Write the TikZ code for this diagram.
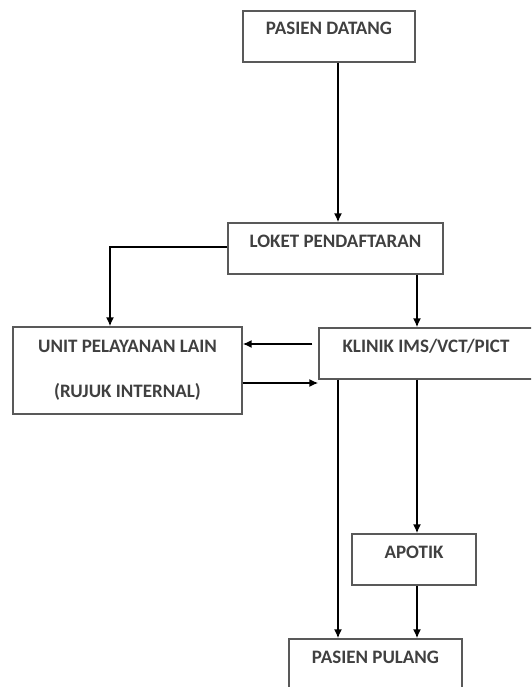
\documentclass[tikz,border=0pt]{standalone}
\usepackage{fontspec}
\setmainfont{Carlito}
\usetikzlibrary{arrows.meta,calc}

\tikzset{
  box/.style={draw=black!65, line width=1.3pt, rectangle, minimum height=51pt,
    inner sep=0pt, align=center, text=black!75,
    font=\fontsize{19}{23}\selectfont\bfseries},
  onebox/.style={box, text height=9pt, text depth=12pt},
  arr/.style={line width=1.7pt, -{Latex[length=9pt,width=8pt]}}
}

\begin{document}
\begin{tikzpicture}[x=1pt,y=1pt]
    \clip (0,0) rectangle (531,-687);
		\node[onebox, minimum width=172pt] (datang) at (329, -36.5) {PASIEN DATANG};
		\node[onebox, minimum width=215pt] (loket) at (335.5, -248.5) {LOKET PENDAFTARAN};
		\node[onebox, minimum width=214pt] (klinik) at (426, -353.5) {KLINIK IMS/VCT/PICT};
		\node[box, minimum width=229pt, minimum height=87pt] (unit) at (127.5, -370.5)
		  {UNIT PELAYANAN LAIN\\[22pt](RUJUK INTERNAL)};
		\node[onebox, minimum width=124pt] (apotik) at (414, -559.5) {APOTIK};
		\node[onebox, minimum width=173pt] (pulang) at (375.5, -664.5) {PASIEN PULANG};
		\draw[arr] ([xshift=9pt]datang.south) to ([xshift=9pt]datang.south |- loket.north);
		\draw[arr] ([yshift=1.5pt]loket.west) -| ([xshift=-17.5pt]unit.north); %to the left
		\draw[arr] ([xshift=81.5pt]loket.south) to ([xshift=81.5pt]loket.south |- klinik.north);
		\draw[arr, shorten <=6pt] ([yshift=9.5pt]klinik.west) to ([yshift=9.5pt]klinik.west -| unit.east);
		\draw[arr] ([yshift=-12.5pt]unit.east) to ([yshift=-12.5pt]unit.east -| klinik.west);
		\draw[arr] ([xshift=-88pt]klinik.south) to ([xshift=-88pt]klinik.south |- pulang.north);
		\draw[arr] ([xshift=-9pt]klinik.south) to ([xshift=-9pt]klinik.south |- apotik.north);
		\draw[arr] ([xshift=3pt]apotik.south) to ([xshift=3pt]apotik.south |- pulang.north);
\end{tikzpicture}
\end{document}
